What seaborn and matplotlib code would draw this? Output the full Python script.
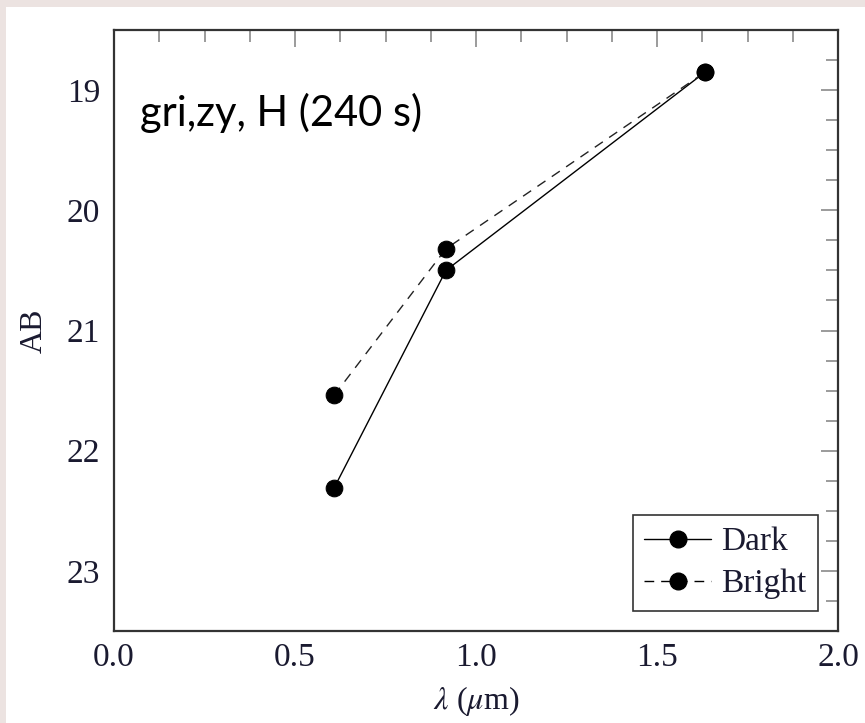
import matplotlib
matplotlib.use("Agg")
import matplotlib.pyplot as plt
from matplotlib.patches import Rectangle
from matplotlib.ticker import MultipleLocator
from matplotlib.lines import Line2D
import seaborn as sns
import pandas as pd

# Data
wavelength = [0.608, 0.917, 1.633]
dark_ab = [22.31, 20.50, 18.85]
bright_ab = [21.54, 20.32, 18.85]
series_names = ["Dark", "Bright"]
x_ticks = [0.0, 0.5, 1.0, 1.5, 2.0]
y_ticks = [19, 20, 21, 22, 23]

sns.set_theme(style="white")
plt.rcParams['font.family'] = ['Liberation Serif', 'DejaVu Serif']
plt.rcParams['mathtext.fontset'] = 'stix'

W, H = 865, 723
fig = plt.figure(figsize=(W / 100, H / 100), dpi=100, facecolor='#ece3e1')
bg = Rectangle((6 / W, 0), 1 - 6 / W, 1 - 7 / H, transform=fig.transFigure,
               facecolor='white', edgecolor='none', zorder=-10)
fig.patches.append(bg)

ax = fig.add_axes([114 / W, (H - 631) / H, (838 - 114) / W, (631 - 30) / H])
ax.set_zorder(1)
ax.set_facecolor('white')

df_dark = pd.DataFrame({"lam": wavelength, "AB": dark_ab})
df_bright = pd.DataFrame({"lam": wavelength, "AB": bright_ab})

sns.lineplot(data=df_dark, x="lam", y="AB", ax=ax, color='black', lw=1.0,
             marker='o', markersize=12, markeredgecolor='black', sort=False)
sns.lineplot(data=df_bright, x="lam", y="AB", ax=ax, color='#222222', lw=1.0,
             linestyle=(0, (7, 5.5)), marker='o', markersize=12,
             markeredgecolor='black', markerfacecolor='black', sort=False)

ax.set_xlim(0, 2.0)
ax.set_ylim(23.5, 18.5)
ax.set_xticks(x_ticks)
ax.set_xticklabels([f"{v:.1f}" for v in x_ticks])
ax.set_yticks(y_ticks)
ax.set_yticklabels([str(v) for v in y_ticks])
ax.xaxis.set_minor_locator(MultipleLocator(0.125))
ax.yaxis.set_minor_locator(MultipleLocator(0.25))

ax.tick_params(which='both', direction='in', top=True, right=True, color='#8a8a8a',
               labelsize=24, labelcolor='#1a1a30')
ax.tick_params(which='major', length=12, width=1.2)
ax.tick_params(which='minor', length=8.5, width=1.2)
ax.tick_params(axis='y', which='major', pad=10)
ax.tick_params(axis='x', which='major', pad=8)

for s in ax.spines.values():
    s.set_color('#333333')
    s.set_linewidth(1.6)

ax.set_xlabel(r'$\lambda$ ($\mu$m)', fontsize=23, color='#1a1a30', labelpad=8)
ax.set_ylabel('AB', fontsize=23, color='#1a1a30', labelpad=13)

handles = [Line2D([], [], color='black', lw=1.0, marker='o', markersize=12),
           Line2D([], [], color='black', lw=1.0, linestyle=(0, (7, 5)), marker='o', markersize=12)]
leg = ax.legend(handles, series_names, loc='lower right', fontsize=24, frameon=True,
                fancybox=False, edgecolor='black', handlelength=2.0,
                borderaxespad=0.6, labelspacing=0.35, borderpad=0.35, handletextpad=0.3)
leg.get_frame().set_linewidth(1.2)
for t in leg.get_texts():
    t.set_color('#1a1a30')

ax.text(140 / W, 1 - 126 / H, 'gri,zy, H (240 s)', transform=fig.transFigure,
        fontsize=30, family=['Lato', 'DejaVu Sans'], color='black', va='baseline', ha='left')

fig.savefig('out.png', dpi=100, facecolor=fig.get_facecolor())
